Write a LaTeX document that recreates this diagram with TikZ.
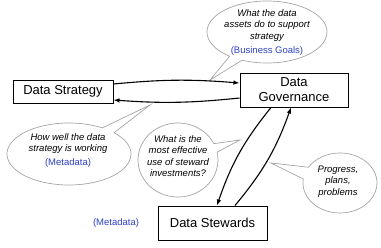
\documentclass[tikz,border=0pt]{standalone}
\usepackage{fontspec}
\setmainfont{Liberation Sans}
\usetikzlibrary{shapes.callouts,arrows.meta}
\definecolor{bubbleline}{RGB}{165,165,165}
\definecolor{metablue}{RGB}{45,65,200}
\begin{document}
\begin{tikzpicture}[x=1pt,y=-1pt,
  box/.style={draw,line width=1pt,font=\fontsize{13}{15}\selectfont,inner sep=0pt,align=center},
  bubble/.style={ellipse callout,draw=bubbleline,fill=white,line width=0.7pt,inner sep=0pt,callout pointer arc=14},
  ctext/.style={font=\fontsize{9.5}{11.5}\selectfont\itshape,align=center,inner sep=0pt},
  meta/.style={font=\fontsize{9.5}{11.5}\selectfont,text=metablue,inner sep=0pt},
  flow/.style={line width=1.1pt,-{Latex[length=6pt,width=4.5pt]}}
]
\useasboundingbox (0,0) rectangle (381,247);

% boxes
\node[box,minimum width=100pt,minimum height=23pt] (ds) at (63,91.5) {Data Strategy};
\node[box,minimum width=108pt,minimum height=34pt] (dg) at (294,90) {Data\\Governance};
\node[box,minimum width=109pt,minimum height=34pt] (dst) at (212.5,223) {Data Stewards};

% callout anchors
\coordinate (p1) at (210,80);
\coordinate (p2) at (150,105);
\coordinate (p3) at (240,140);
\coordinate (p4) at (271,163);

% callouts
\node[bubble,minimum width=120pt,minimum height=62pt,callout absolute pointer={(p1)}] (c1) at (267,32) {};
\node[bubble,minimum width=124pt,minimum height=62pt,callout absolute pointer={(p2)}] (c2) at (69,154) {};
\node[bubble,minimum width=80pt,minimum height=74pt,callout absolute pointer={(p3)}] (c3) at (178,160) {};
\node[bubble,minimum width=74pt,minimum height=60pt,callout pointer arc=24,callout absolute pointer={(p4)}] (c4) at (340,183) {};

\node[ctext] (t1) at (267,32.5) {What the data\\assets do to support\\strategy\\[2.5pt]\textup{\color{metablue}(Business Goals)}};
\node[ctext] (t2) at (68,150.5) {How well the data\\strategy is working\\[2.5pt]\textup{\color{metablue}(Metadata)}};
\node[ctext] (t3) at (178,156) {What is the\\most effective\\use of steward\\investments?};
\node[ctext] (t4) at (338,181.5) {Progress,\\plans,\\problems};
\node[meta] (m1) at (116,223) {(Metadata)};

% connectors
\draw[flow] ([yshift=7.5pt]ds.east) to[bend left=5] ([yshift=7pt]dg.west);
\draw[flow] ([yshift=-8pt]dg.west) to[bend left=5] ([yshift=-8.5pt]ds.east);
\draw[flow] ([xshift=-23pt]dg.south) to[bend right=10] ([xshift=4.5pt]dst.north);
\draw[flow] ([xshift=22.5pt]dst.north) to[bend right=10] ([xshift=-3pt]dg.south);
\end{tikzpicture}
\end{document}
